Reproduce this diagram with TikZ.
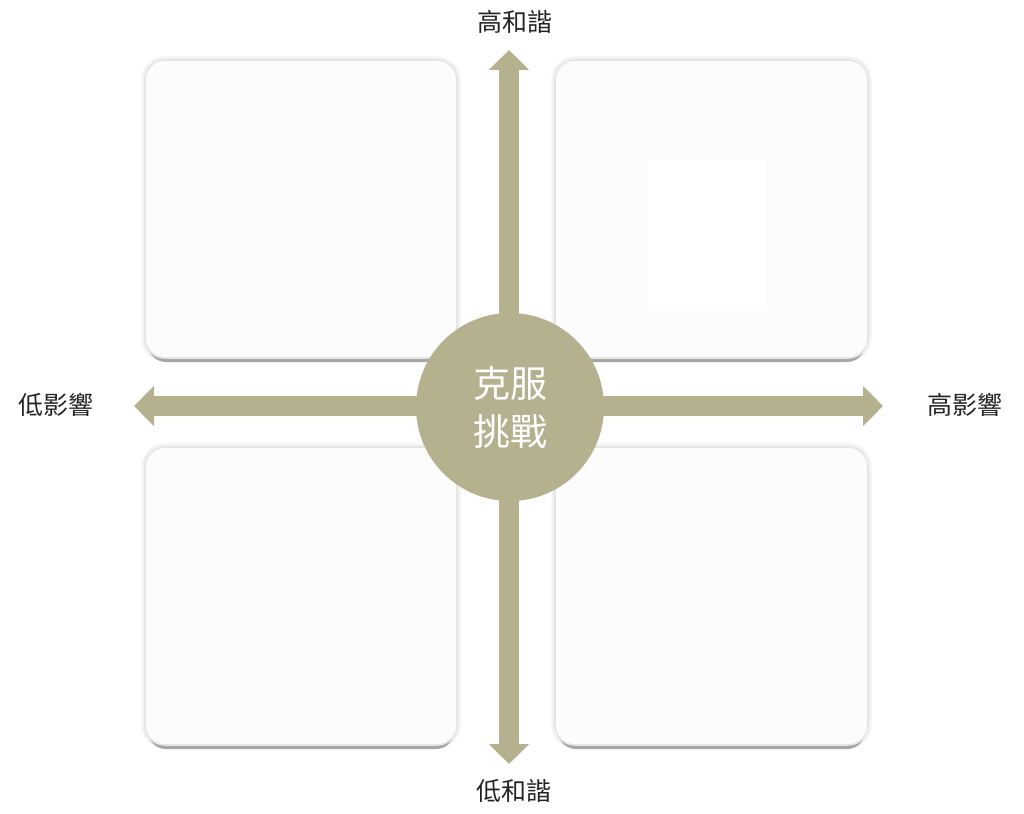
\documentclass[tikz,border=0pt]{standalone}
\usepackage{fontspec}
\newfontfamily\cjk{Noto Sans CJK TC}
\usetikzlibrary{arrows.meta}
\definecolor{olive}{RGB}{181,177,143}
\definecolor{labelgray}{RGB}{35,35,35}
\definecolor{boxfill}{RGB}{252,252,252}
\tikzset{
  quadshadow/.style={fill=gray!70, rounded corners=18pt, draw=none},
  quadglow/.style={draw=gray!10, line width=7pt, rounded corners=20pt},
  quadbox/.style={fill=boxfill, draw=gray!20, line width=1.6pt, rounded corners=20pt},
  axisarrow/.style={draw=olive, line width=20pt, -{Triangle[width=39pt,length=20pt]}},
  axislabel/.style={font=\cjk\fontsize{25}{30}\selectfont, text=labelgray, inner sep=0pt},
  hub/.style={circle, fill=olive, minimum size=188pt, inner sep=0pt, text=white, align=center,
    font=\cjk\fontsize{37}{48}\selectfont}
}
\begin{document}
\begin{tikzpicture}[x=1pt,y=-1pt]
\useasboundingbox[fill=white] (0,0) rectangle (1024,813);
% quadrant boxes
\foreach \nm/\xa/\ya/\xb/\yb in {tl/145/60/457/358, tr/555/60/868/358, bl/145/447/457/745, br/555/447/868/745}{
  \draw[quadglow] (\xa,\ya) rectangle (\xb,\yb);
  \fill[quadshadow] (\xa+3,\ya+6) rectangle (\xb-3,\yb+4);
  \draw[quadbox] (\xa,\ya) rectangle (\xb,\yb);
}
\fill[white] (648,160) rectangle (767,311);
% axes
\coordinate (cc) at (510,406);
\coordinate (ctop) at (509,50);
\coordinate (cbot) at (509,764);
\coordinate (cleft) at (134,406);
\coordinate (cright) at (883,406);
\draw[axisarrow] (509,406) -- (ctop);
\draw[axisarrow] (509,406) -- (cbot);
\draw[axisarrow] (cc) -- (cleft);
\draw[axisarrow] (cc) -- (cright);
% hub
\node[hub] (hub) at (510,407) {克服\\挑戰};
% labels
\node[axislabel] (top) at (515,22) {高和諧};
\node[axislabel] (bottom) at (514,791) {低和諧};
\node[axislabel] (left) at (56,405) {低影響};
\node[axislabel] (right) at (965,405) {高影響};
\end{tikzpicture}
\end{document}
